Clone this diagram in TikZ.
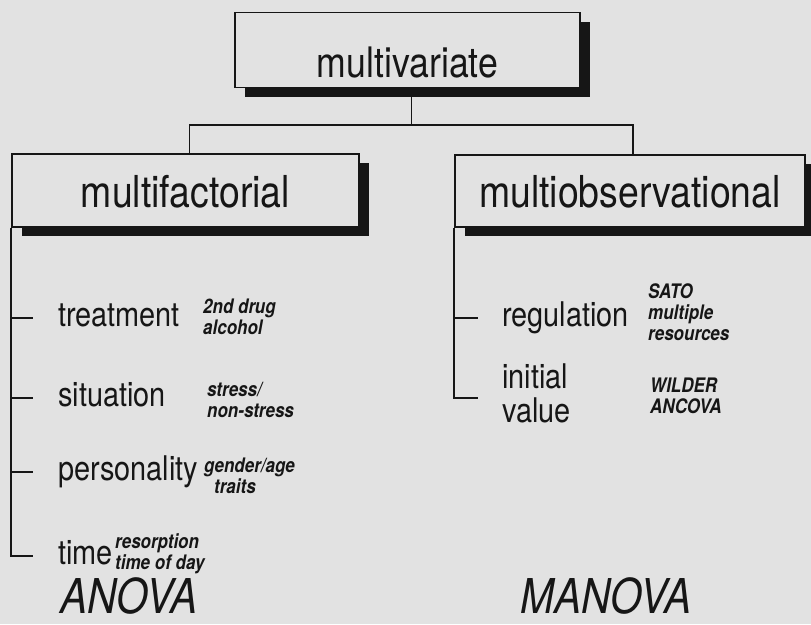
\documentclass[tikz,border=0pt]{standalone}
\usepackage{fontspec}
\setmainfont[FakeStretch=0.85]{TeX Gyre Heros}
\usetikzlibrary{
	shadows,
	positioning
}
\definecolor{paper}{RGB}{226,226,226}
\definecolor{ink}{RGB}{22,22,22}

\tikzset{
	box/.style={draw=ink, line width=1.8pt, fill=paper, inner sep=0pt, text=ink,
		drop shadow={shadow xshift=10pt, shadow yshift=-9pt, fill=ink, opacity=1}},
	branch/.style={draw=ink, line width=1.8pt},
	item/.style={anchor=west, inner sep=0pt, text=ink, text height=17pt, text depth=0pt,
		font=\fontsize{34}{34}\selectfont},
	note/.style={anchor=north west, inner sep=0pt, align=left, text=ink,
		font=\fontsize{20}{21}\selectfont\bfseries\itshape},
	method/.style={anchor=base west, inner sep=0pt, text=ink,
		font=\fontsize{48}{48}\selectfont\itshape}
}

\begin{document}
\begin{tikzpicture}[x=1pt, y=-1pt]

	\fill[paper] (0,0) rectangle (811,624);
	\useasboundingbox (0,0) rectangle (811,624);
	\clip (0,0) rectangle (811,624);

	% the three boxes
	\node[box, minimum width=345pt, minimum height=75pt, text height=54pt, text depth=0pt,
		font=\fontsize{42}{42}\selectfont] (mv) at (407.5,50) {multivariate};
	\node[box, minimum width=347pt, minimum height=73pt, text height=33pt, text depth=0pt,
		font=\fontsize{44}{44}\selectfont] (mf) at (185.5,190.5) {multifactorial};
	\node[box, minimum width=350pt, minimum height=72pt, text height=32pt, text depth=0pt,
		font=\fontsize{44}{44}\selectfont] (mo) at (630,191) {multiobservational};

	\coordinate (split) at (0,125);
	\draw[branch] ([xshift=4pt]mv.south) -- ([xshift=4pt]mv.south |- split);
	\draw[branch] ([xshift=4pt]mf.north) |- ([xshift=3pt]mo.north |- split) -- ([xshift=3pt]mo.north);

	% multifactorial
	\node[item] (trt) at (58,318) {treatment};
	\node[item] (sit) at (58,398) {situation};
	\node[item] (pers) at (58,472) {personality};
	\node[item] (time) at (58,556) {time};

	\draw[branch, shorten >=25pt] (mf.south west) |- (time.west);
	\foreach \nm in {trt, sit, pers}{
		\draw[branch, shorten >=25pt] (mf.south west |- \nm.west) -- (\nm.west);
	}

	\node[note] (trtnote) at (203,298.5) {2nd drug\\alcohol};
	\node[note] (sitnote) at (207,382.5) {stress/\\non-stress};
	\node[note] (persnote) at (204,457.5) {gender/age\\\hspace*{10pt}traits};
	\node[note] (timenote) at (115,533.5) {resorption\\time of day};

	% multiobservational
	\node[item] (reg) at (502,318) {regulation};
	\node[item, text height=, text depth=, align=left] (init) at (502,393) {initial\\value};

	\draw[branch, shorten >=24pt] (mo.south west) |- ([yshift=-5pt]init.west);
	\draw[branch, shorten >=24pt] (mo.south west |- reg.west) -- (reg.west);

	\node[note] (regnote) at (648,283.5) {SATO\\multiple\\resources};
	\node[note] (initnote) at (650,377.5) {WILDER\\ANCOVA};

	\node[method] (anova) at (60,613) {ANOVA};
	\node[method] (manova) at (520,613) {MANOVA};

\end{tikzpicture}
\end{document}
